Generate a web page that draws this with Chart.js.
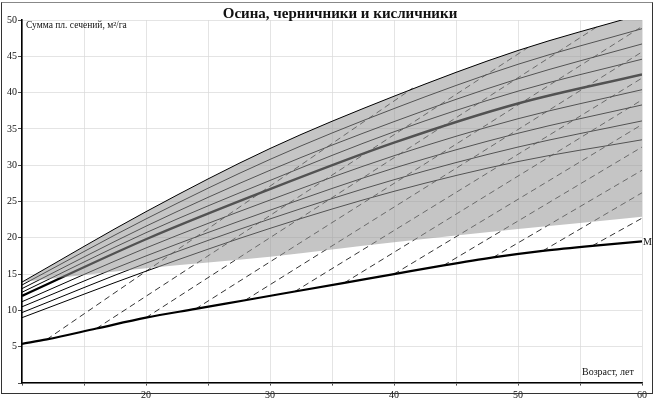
<!DOCTYPE html>
<html><head><meta charset="utf-8">
<script src="https://cdn.jsdelivr.net/npm/chart.js@4"></script>
<style>
body{margin:0;background:#fff;font-family:"Liberation Serif",serif;}
#wrap{position:relative;width:657px;height:407px;}
#frame{position:absolute;left:1px;top:2px;width:650px;height:390px;border:1px solid #333;border-top-color:#888;pointer-events:none;}
.t{position:absolute;color:#111;white-space:nowrap;}
</style></head><body>
<div id="wrap">
<canvas id="c" width="657" height="407"></canvas>
<div id="frame"></div>
<div class="t" style="left:0;width:680px;text-align:center;top:5px;font-weight:bold;font-size:15px;">Осина, черничники и кисличники</div>
<div class="t" style="left:26px;top:20px;font-size:9.5px;">Сумма пл. сечений, м²/га</div>
<div class="t" style="left:582px;top:366px;font-size:10px;">Возраст, лет</div>
<div class="t" style="left:643px;top:236px;font-size:10px;">M</div>
</div>
<script>
const ages=[10,20,30,40,50,60];
const bandTop=[13.9,23.6,32.3,39.5,45.8,50.8];
const bandBottom=[13.9,15.8,17.4,19.4,21.2,22.9];
const curves=[
 [13.5,22.6,30.8,37.8,43.9,48.8],
 [13.0,21.6,29.3,36.0,41.9,46.7],
 [12.5,20.7,27.9,34.6,40.2,44.6],
 [11.2,18.6,25.2,31.3,36.4,40.4],
 [10.5,17.5,23.8,29.6,34.4,38.3],
 [9.7,16.5,22.6,28.0,32.5,36.1],
 [9.0,15.4,21.3,26.4,30.5,33.5]
];
const mainCurve=[12.0,19.8,26.7,33.1,38.5,42.5];
const mAges=[10,12,16,20,24,28,32,36,40,44,48,52,56,60];
const mValues=[5.4,6.0,7.5,9.0,10.2,11.4,12.6,13.8,15.0,16.2,17.3,18.2,18.9,19.5];
const dashStartAge=[12,16,20,24,28,32,36,40,44,48,52,56];
const dashStartVal=[6.0,7.5,9.0,10.2,11.4,12.6,13.8,15.0,16.2,17.3,18.2,18.9];
const dashEndAge=[41.5,50.8,56.5,60,60,60,60,60,60,60,60,60];
const dashEndVal=[40.6,46.2,49.2,49.1,45.6,42.0,39.0,35.6,32.5,29.3,26.2,22.7];
const xTicks=[20,30,40,50,60];

const pts=(xs,ys)=>xs.map((x,i)=>({x,y:ys[i]}));
const base={pointRadius:0,showLine:true,cubicInterpolationMode:'monotone',borderColor:'#000'};
const ds=[];
ds.push({...base,data:pts(ages,bandTop),borderWidth:1,fill:1,backgroundColor:'rgba(150,150,150,0.55)'});
ds.push({...base,data:pts(ages,bandBottom),borderWidth:0,borderColor:'rgba(0,0,0,0)',fill:false});
curves.forEach(c=>ds.push({...base,data:pts(ages,c),borderWidth:1,fill:false}));
ds.push({...base,data:pts(ages,mainCurve),borderWidth:2.4,fill:false});
ds.push({...base,data:pts(mAges,mValues),borderWidth:2.2,fill:false});
dashStartAge.forEach((a,i)=>ds.push({...base,data:[{x:a,y:dashStartVal[i]},{x:dashEndAge[i],y:dashEndVal[i]}],borderWidth:0.8,borderDash:[6,4],fill:false}));

new Chart(document.getElementById('c'),{
 type:'scatter',
 data:{datasets:ds},
 options:{responsive:false,animation:false,
  layout:{padding:{left:0,right:15,top:20,bottom:0}},
  plugins:{legend:{display:false},tooltip:{enabled:false}},
  scales:{
   x:{type:'linear',min:10,max:60,
     afterFit:s=>{s.height=24;},
     border:{color:'#000',width:1.6},
     grid:{color:'#d8d8d8',lineWidth:0.7,drawTicks:true,tickLength:4,tickColor:'#000',tickBorderDash:[2,3]},
     ticks:{stepSize:5,autoSkip:false,color:'#111',font:{family:'Liberation Serif',size:10},padding:2,
       callback:v=>xTicks.includes(v)?String(v):''}},
   y:{min:0,max:50,
     afterFit:s=>{s.width=22;},
     border:{color:'#000',width:1.6},
     grid:{color:'#d8d8d8',lineWidth:0.7,tickLength:4,tickColor:'#000'},
     ticks:{stepSize:5,color:'#111',font:{family:'Liberation Serif',size:10},padding:1,
       callback:v=>v===0?'':String(v)}}
  }}
});
</script>
</body></html>
